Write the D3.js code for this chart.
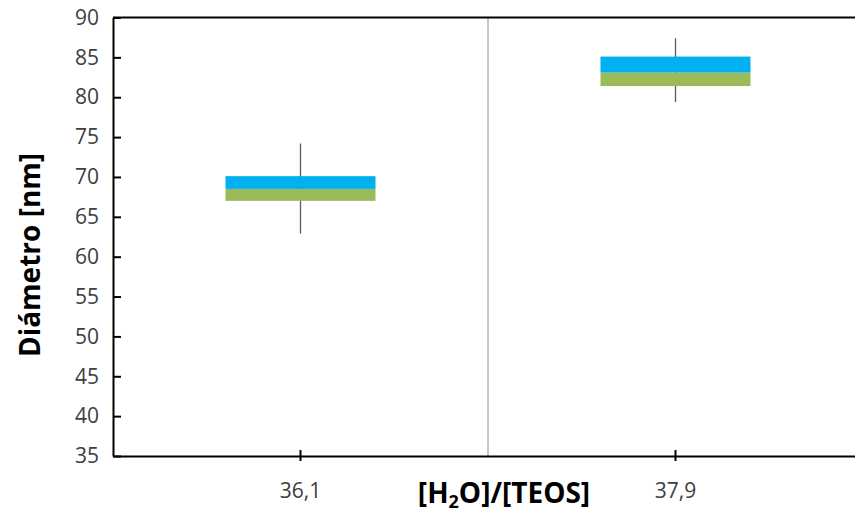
<!DOCTYPE html>
<html lang="es">
<head>
<meta charset="UTF-8">
<title>Diámetro vs [H2O]/[TEOS]</title>
<style>
body { margin: 0; background: #fff; }
svg text { font-family: 'Open Sans', 'Noto Sans', sans-serif; }
</style>
</head>
<body>
<svg id="chart" width="855" height="515"></svg>
<script src="https://d3js.org/d3.v7.min.js"></script>
<script>
// valores
var categories = ["36,1", "37,9"];
var whiskerLow = [62.9, 79.4];
var boxLow = [67.0, 81.4];
var boxMid = [68.5, 83.1];
var boxHigh = [70.1, 85.1];
var whiskerHigh = [74.2, 87.4];
var yTicks = [35, 40, 45, 50, 55, 60, 65, 70, 75, 80, 85, 90];

var svg = d3.select("#chart");
var mLeft = 113, mRight = 863, mTop = 17.5, mBottom = 456;

var x = d3.scaleBand().domain(categories).range([mLeft, mRight]);
var y = d3.scaleLinear().domain([35, 90]).range([mBottom, mTop]);
var boxW = x.bandwidth() * 0.4;

// separador entre categorias
svg.append("line")
  .attr("x1", x(categories[1])).attr("x2", x(categories[1]))
  .attr("y1", mTop).attr("y2", mBottom)
  .attr("stroke", "#8c8c8c").attr("stroke-width", 1);

var data = categories.map(function (c, i) {
  return { c: c, wl: whiskerLow[i], lo: boxLow[i], mid: boxMid[i], hi: boxHigh[i], wh: whiskerHigh[i] };
});

var g = svg.append("g").selectAll("g").data(data).enter().append("g");
var cx = function (d) { return x(d.c) + x.bandwidth() / 2; };

g.append("line")
  .attr("x1", cx).attr("x2", cx)
  .attr("y1", function (d) { return y(d.wh); })
  .attr("y2", function (d) { return y(d.wl); })
  .attr("stroke", "#595959").attr("stroke-width", 1.3);

g.append("rect")
  .attr("x", function (d) { return cx(d) - boxW / 2; })
  .attr("width", boxW)
  .attr("y", function (d) { return y(d.mid); })
  .attr("height", function (d) { return y(d.lo) - y(d.mid); })
  .attr("fill", "#9bbb59");

g.append("rect")
  .attr("x", function (d) { return cx(d) - boxW / 2; })
  .attr("width", boxW)
  .attr("y", function (d) { return y(d.hi); })
  .attr("height", function (d) { return y(d.mid) - y(d.hi); })
  .attr("fill", "#00b0f0");

// marco superior
svg.append("line")
  .attr("x1", mLeft).attr("x2", 855)
  .attr("y1", mTop).attr("y2", mTop)
  .attr("stroke", "#000").attr("stroke-width", 2);

// eje y
var yAxis = svg.append("g")
  .attr("transform", "translate(" + mLeft + ",0)")
  .call(d3.axisLeft(y).tickValues(yTicks).tickSizeInner(-8).tickSizeOuter(0).tickPadding(14));
yAxis.select(".domain").attr("stroke", "#000").attr("stroke-width", 2);
yAxis.selectAll(".tick line").attr("stroke", "#000").attr("stroke-width", 2);
yAxis.selectAll("text").attr("font-size", 21).attr("fill", "#404040");

// eje x
var xAxis = svg.append("g")
  .attr("transform", "translate(0," + mBottom + ")")
  .call(d3.axisBottom(x).tickSizeOuter(0).tickSizeInner(0).tickPadding(27));
xAxis.select(".domain").attr("stroke", "#000").attr("stroke-width", 2);
xAxis.selectAll(".tick line").remove();
xAxis.selectAll(".tick").append("line")
  .attr("y1", -6).attr("y2", 5)
  .attr("stroke", "#000").attr("stroke-width", 2);
xAxis.selectAll("text").attr("font-size", 21).attr("fill", "#404040");

// titulos
svg.append("text")
  .attr("transform", "translate(40,255) rotate(-90)")
  .attr("text-anchor", "middle")
  .attr("font-size", 28).attr("font-weight", "bold")
  .text("Diámetro [nm]");

var xt = svg.append("text")
  .attr("x", 504).attr("y", 503)
  .attr("text-anchor", "middle")
  .attr("font-size", 28).attr("font-weight", "bold");
xt.append("tspan").text("[H");
xt.append("tspan").attr("font-size", 18).attr("dy", 5).text("2");
xt.append("tspan").attr("dy", -5).text("O]/[TEOS]");
</script>
</body>
</html>
